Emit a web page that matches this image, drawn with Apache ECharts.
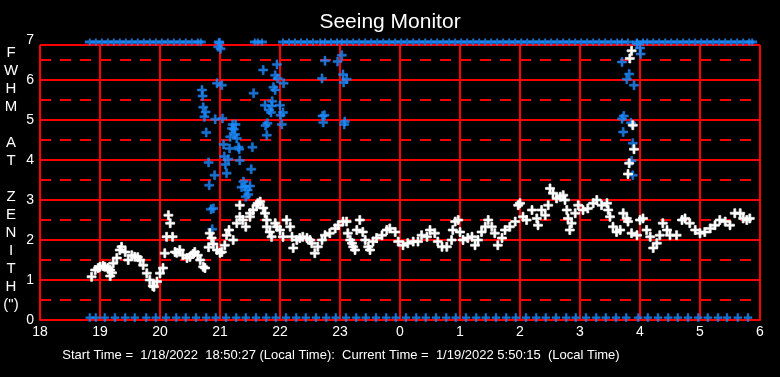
<!DOCTYPE html>
<html><head><meta charset="utf-8">
<script src="https://cdn.jsdelivr.net/npm/echarts@6/dist/echarts.min.js"></script>
<style>html,body{margin:0;padding:0;background:#000}#c{width:780px;height:377px}</style>
</head><body><div id="c"></div><script>
const titleText = 'Seeing Monitor';
const yAxisTitle = 'F\nW\nH\nM\n\nA\nT\n\nZ\nE\nN\nI\nT\nH\n(")';
const footerText = 'Start Time =  1/18/2022  18:50:27 (Local Time):  Current Time =  1/19/2022 5:50:15  (Local Time)';
const xHourTicks = [18,19,20,21,22,23,24,25,26,27,28,29,30];
const frameTop = 6.875;

// main FWHM readings [hour, arcsec]
const whitePoints = [
[18.86,1.08],[18.92,1.25],[18.97,1.3],[19.0,1.33],[19.05,1.35],[19.08,1.33],[19.13,1.3],[19.17,1.25],[19.17,1.1],[19.2,1.18],
[19.22,1.42],[19.28,1.55],[19.33,1.75],[19.36,1.83],[19.42,1.7],[19.47,1.5],[19.53,1.62],[19.58,1.58],[19.63,1.57],[19.67,1.5],
[19.72,1.37],[19.78,1.17],[19.83,1.0],[19.88,0.85],[19.9,0.83],[19.95,0.96],[20.0,1.17],[20.05,1.3],[20.08,1.67],[20.11,2.08],
[20.14,2.62],[20.17,2.42],[20.21,2.08],[20.25,1.7],[20.28,1.68],[20.33,1.75],[20.38,1.62],[20.45,1.55],[20.5,1.58],[20.55,1.65],
[20.58,1.7],[20.63,1.62],[20.67,1.5],[20.72,1.33],[20.75,1.3],[20.81,1.82],[20.83,2.17],[20.86,2.05],[20.89,1.9],[20.95,1.75],
[21.0,1.68],[21.03,1.7],[21.08,1.87],[21.11,2.12],[21.15,2.25],[21.22,2.0],[21.28,2.42],[21.33,2.58],[21.33,2.87],[21.38,2.5],
[21.43,2.33],[21.5,2.58],[21.5,2.67],[21.55,2.75],[21.61,2.87],[21.63,2.92],[21.67,2.96],[21.72,2.8],[21.75,2.67],[21.78,2.5],
[21.78,2.33],[21.83,2.2],[21.86,2.08],[21.92,2.42],[21.95,2.33],[22.0,2.25],[22.05,2.08],[22.11,2.5],[22.17,2.33],[22.2,2.08],
[22.22,1.8],[22.28,2.0],[22.33,2.05],[22.38,2.08],[22.45,2.05],[22.5,2.0],[22.53,1.92],[22.58,1.67],[22.63,1.83],[22.7,2.0],
[22.75,2.12],[22.83,2.17],[22.92,2.29],[22.97,2.37],[23.05,2.46],[23.11,2.46],[23.13,2.17],[23.17,2.0],[23.2,1.92],[23.22,1.83],
[23.25,1.75],[23.28,2.25],[23.33,2.5],[23.38,2.2],[23.42,2.0],[23.47,1.83],[23.5,1.75],[23.55,1.96],[23.61,2.05],[23.7,2.12],
[23.78,2.25],[23.83,2.29],[23.92,2.2],[23.97,1.96],[24.05,1.87],[24.13,1.92],[24.22,1.96],[24.3,1.96],[24.36,2.12],[24.45,2.08],
[24.5,2.25],[24.58,2.17],[24.63,1.96],[24.7,1.83],[24.78,1.83],[24.86,2.0],[24.88,2.25],[24.92,2.46],[24.97,2.5],[25.0,2.2],
[25.05,2.0],[25.13,2.05],[25.2,2.08],[25.25,1.87],[25.3,2.0],[25.36,2.2],[25.42,2.33],[25.47,2.5],[25.53,2.33],[25.58,2.17],
[25.63,1.87],[25.7,2.05],[25.75,2.25],[25.83,2.33],[25.92,2.46],[25.97,2.87],[26.0,2.92],[26.05,2.58],[26.11,2.5],[26.2,2.75],
[26.28,2.54],[26.3,2.37],[26.36,2.75],[26.42,2.62],[26.47,2.87],[26.5,3.29],[26.55,3.17],[26.61,3.04],[26.67,3.08],[26.72,3.12],
[26.75,3.0],[26.78,2.75],[26.8,2.54],[26.83,2.25],[26.86,2.42],[26.92,2.67],[26.97,2.87],[27.05,2.75],[27.13,2.79],[27.22,2.92],
[27.28,3.0],[27.36,2.87],[27.45,2.92],[27.47,2.75],[27.5,2.58],[27.55,2.33],[27.61,2.2],[27.67,2.25],[27.72,2.67],[27.78,2.54],
[27.8,2.46],[27.86,2.17],[27.95,2.12],[28.0,2.5],[28.05,2.54],[28.11,2.25],[28.17,2.08],[28.22,1.8],[28.28,1.92],[28.33,2.12],
[28.38,2.42],[28.45,2.25],[28.5,2.12],[28.61,2.12],[28.7,2.5],[28.75,2.54],[28.83,2.42],[28.92,2.25],[29.0,2.17],[29.08,2.2],
[29.17,2.29],[29.25,2.37],[29.33,2.5],[29.42,2.46],[29.5,2.37],[29.58,2.67],[29.67,2.67],[29.72,2.54],[29.78,2.5],[29.83,2.54],
[27.8,3.65],[27.82,3.92],[27.83,6.54],[27.86,6.73],[27.88,4.87],[27.9,4.27]
];

// secondary (blue) readings [hour, arcsec]
const bluePoints = [
[20.99,6.93],[20.97,6.83],[21.01,6.78],[21.95,6.39],[21.72,6.25],[21.92,6.12],[21.96,6.04],[22.06,5.92],[20.95,5.92],[21.03,5.87],
[20.70,5.75],[20.71,5.6],[21.56,5.67],[21.89,5.82],[21.92,5.75],[21.87,5.47],[21.75,5.37],[21.86,5.35],[22.0,5.37],[21.82,5.25],
[21.85,5.19],[22.05,5.19],[22.01,5.12],[20.72,5.32],[20.76,5.2],[20.74,5.08],[20.92,5.02],[21.04,5.04],[21.79,4.92],[21.76,4.86],
[22.03,4.89],[21.21,4.89],[21.26,4.89],[21.20,4.79],[21.23,4.77],[20.77,4.69],[21.17,4.58],[21.25,4.64],[21.28,4.54],[21.78,4.62],
[21.06,4.39],[21.16,4.29],[21.31,4.32],[21.32,4.27],[21.54,4.32],[21.07,4.09],[21.14,4.02],[20.81,3.94],[21.33,3.99],[21.09,3.89],
[21.52,3.77],[20.91,3.62],[21.11,3.67],[20.82,3.37],[21.39,3.46],[21.36,3.32],[21.42,3.33],[21.5,3.35],[21.46,3.25],[21.47,3.14],
[21.43,3.08],[20.85,2.77],[20.89,2.79],[20.87,2.27],
[22.75,6.48],[22.96,6.46],[23.03,6.62],[23.05,6.14],[23.11,6.02],[23.06,5.94],[22.70,6.04],[22.71,5.1],[22.74,5.12],[22.72,4.94],
[23.08,4.96],[23.07,4.89],
[27.95,6.9],[28.0,6.8],[28.01,6.65],[27.70,6.45],[27.82,6.15],[27.78,6.02],[27.90,5.87],[27.73,5.1],[27.70,5.03],[27.85,4.93],
[27.72,4.7],[27.88,4.42],[27.86,3.98],[27.88,3.62]
];

// blue readings pinned at the top of the scale (>= 7)
const blueTopHours = [
18.83,18.93,19.03,19.13,19.23,19.33,19.43,19.53,19.63,19.73,19.83,19.93,20.03,20.13,20.23,20.33,20.43,20.53,20.63,20.68,
20.98,21.58,21.63,21.70,
22.05,22.15,22.25,22.35,22.45,22.55,22.67,22.75,22.85,22.95,23.03,
23.12,23.22,23.32,23.42,23.52,23.62,23.72,23.82,23.92,24.02,24.12,24.22,24.32,24.42,24.52,24.62,24.72,24.82,24.92,25.02,
25.12,25.22,25.32,25.42,25.52,25.62,25.72,25.82,25.92,26.02,26.12,26.22,26.32,26.42,26.52,26.62,26.72,26.82,26.92,27.02,
27.12,27.22,27.32,27.42,27.52,27.62,27.70,27.80,27.95,28.05,
28.12,28.22,28.32,28.42,28.52,28.62,28.72,28.82,28.92,29.02,29.12,29.22,29.32,29.42,29.52,29.62,29.72,29.82,29.87
];
const blueTopValue = 6.95;

// blue readings pinned at the bottom of the scale
const blueBottomHours = [
18.83,18.93,19.08,19.25,19.42,19.58,19.77,19.93,20.1,20.27,20.43,20.6,20.77,20.93,21.1,21.27,21.43,21.6,21.77,21.93,
22.1,22.27,22.43,22.6,22.77,22.93,23.1,23.27,23.43,23.6,23.77,23.93,24.1,24.27,24.43,24.6,24.77,24.93,25.1,25.27,
25.43,25.6,25.77,25.93,26.1,26.27,26.43,26.6,26.77,26.93,27.1,27.27,27.43,27.6,27.77,27.97,28.13,28.3,28.47,28.63,
28.8,28.97,29.13,29.3,29.45,29.63,29.8
];
const blueBottomValue = 0.06;

const RED = '#ff0000', BLUE = '#1e8cff', FONT = '"Liberation Sans", Arial, sans-serif';
const plus = 'path://M3.5,0H5.5V3.5H9V5.5H5.5V9H3.5V5.5H0V3.5H3.5Z';
const plusBold = 'path://M4,0H6V2.5H10V6.5H6V9H4V6.5H0V2.5H4Z';

const frameLines = xHourTicks.map(h => [{coord:[h,0]},{coord:[h,frameTop]}]);
frameLines.push([{coord:[xHourTicks[0],frameTop]},{coord:[xHourTicks[xHourTicks.length-1],frameTop]}]);

const chart = echarts.init(document.getElementById('c'), null, {renderer:'canvas'});
chart.setOption({
  backgroundColor:'#000',
  animation:false,
  title:{text:titleText,left:'center',top:7,textStyle:{color:'#fff',fontSize:21,fontWeight:'normal',fontFamily:FONT}},
  grid:{left:40,right:20,top:40,bottom:57,containLabel:false},
  xAxis:{type:'value',min:18,max:30,interval:1,
    axisLine:{show:true,lineStyle:{color:RED,width:2}},
    axisTick:{show:false},
    axisLabel:{color:'#fff',fontSize:14,fontFamily:FONT,margin:5,formatter:v=>String(v%24)},
    splitLine:{show:false}},
  yAxis:{type:'value',min:0,max:7,interval:1,
    axisLine:{show:false},axisTick:{show:false},
    axisLabel:{color:'#fff',fontSize:14,fontFamily:FONT,margin:6},
    splitLine:{show:true,showMinLine:false,showMaxLine:false,lineStyle:{color:RED,width:2}},
    minorTick:{show:false,splitNumber:2},
    minorSplitLine:{show:true,lineStyle:{color:RED,width:2,type:[11,9]}}},
  graphic:[
    {type:'text',x:11,y:44,style:{text:yAxisTitle,textAlign:'center',textVerticalAlign:'top',fill:'#fff',fontSize:15,fontFamily:FONT,lineHeight:18}},
    {type:'text',x:341,y:355,style:{text:footerText,textAlign:'center',textVerticalAlign:'middle',fill:'#fff',fontSize:13,fontFamily:FONT}}
  ],
  series:[
    {type:'scatter',name:'frame',data:[],z:1,silent:true,
     markLine:{silent:true,symbol:'none',z:1,label:{show:false},lineStyle:{color:RED,width:2,type:'solid'},data:frameLines}},
    {type:'scatter',name:'bottom',data:blueBottomHours.map(h=>[h,blueBottomValue]),symbol:plus,symbolSize:8,itemStyle:{color:BLUE,borderColor:BLUE,borderWidth:0.5},z:3},
    {type:'scatter',name:'top',data:blueTopHours.map(h=>[h,blueTopValue]),symbol:plusBold,symbolSize:[10,7],itemStyle:{color:BLUE},z:3,clip:false},
    {type:'scatter',name:'blue',data:bluePoints,symbol:plus,symbolSize:9,itemStyle:{color:BLUE,borderColor:BLUE,borderWidth:0.6},z:4},
    {type:'scatter',name:'white',data:whitePoints,symbol:plus,symbolSize:9,itemStyle:{color:'#fff',borderColor:'#fff',borderWidth:0.7,opacity:1},z:5}
  ]
});
</script></body></html>
